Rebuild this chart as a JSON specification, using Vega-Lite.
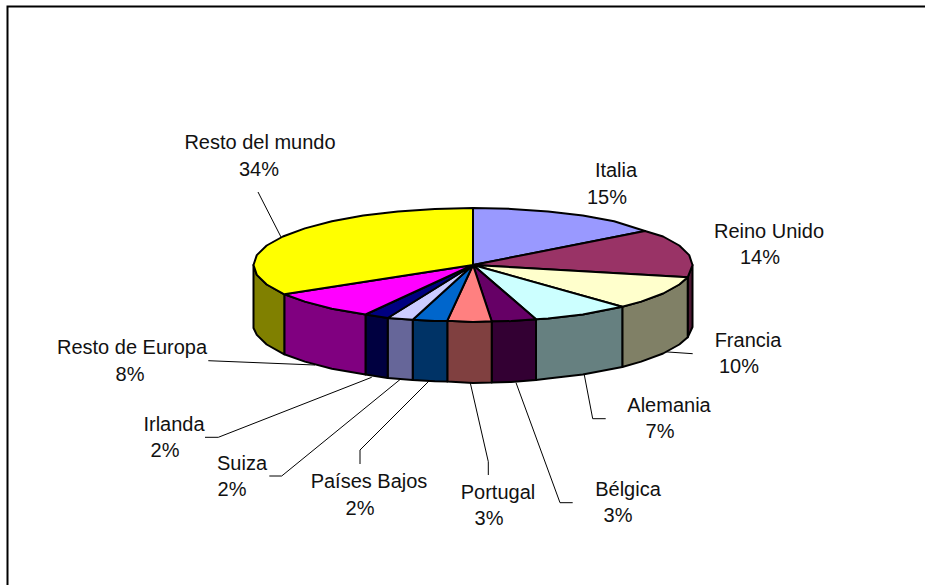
{
"$schema":"https://vega.github.io/schema/vega-lite/v6.json",
"width":925,"height":585,"padding":0,"autosize":{"type":"none"},
"background":"white","view":{"stroke":null},
"datasets":{
"polys":[
{"p":"Reino Unido lado","o":1,"x":692.5,"y":265},{"p":"Reino Unido lado","o":2,"x":687.7,"y":277.3},{"p":"Reino Unido lado","o":3,"x":687.7,"y":337.3},{"p":"Reino Unido lado","o":4,"x":692.5,"y":327},
{"p":"Francia lado","o":1,"x":687.7,"y":277.3},{"p":"Francia lado","o":2,"x":679.3,"y":284.5},{"p":"Francia lado","o":3,"x":663.1,"y":293.5},{"p":"Francia lado","o":4,"x":641.1,"y":301.6},{"p":"Francia lado","o":5,"x":622.3,"y":306.7},{"p":"Francia lado","o":6,"x":622.3,"y":367},{"p":"Francia lado","o":7,"x":641.1,"y":361.6},{"p":"Francia lado","o":8,"x":663.1,"y":353.5},{"p":"Francia lado","o":9,"x":679.3,"y":344.5},{"p":"Francia lado","o":10,"x":687.7,"y":337.3},
{"p":"Alemania lado","o":1,"x":622.3,"y":306.7},{"p":"Alemania lado","o":2,"x":582.8,"y":314.4},{"p":"Alemania lado","o":3,"x":548.1,"y":318.6},{"p":"Alemania lado","o":4,"x":536,"y":319.3},{"p":"Alemania lado","o":5,"x":536,"y":380},{"p":"Alemania lado","o":6,"x":548.1,"y":378.6},{"p":"Alemania lado","o":7,"x":582.8,"y":374.4},{"p":"Alemania lado","o":8,"x":622.3,"y":367},
{"p":"Bélgica lado","o":1,"x":536,"y":319.3},{"p":"Bélgica lado","o":2,"x":511.1,"y":321.1},{"p":"Bélgica lado","o":3,"x":491.7,"y":321.3},{"p":"Bélgica lado","o":4,"x":491.7,"y":382.5},{"p":"Bélgica lado","o":5,"x":511.1,"y":382},{"p":"Bélgica lado","o":6,"x":536,"y":380},
{"p":"Portugal lado","o":1,"x":491.7,"y":321.3},{"p":"Portugal lado","o":2,"x":473,"y":322},{"p":"Portugal lado","o":3,"x":447.3,"y":320.7},{"p":"Portugal lado","o":4,"x":447.3,"y":381.5},{"p":"Portugal lado","o":5,"x":473,"y":383},{"p":"Portugal lado","o":6,"x":491.7,"y":382.5},
{"p":"Países Bajos lado","o":1,"x":447.3,"y":320.7},{"p":"Países Bajos lado","o":2,"x":434.9,"y":321.1},{"p":"Países Bajos lado","o":3,"x":412.7,"y":319.7},{"p":"Países Bajos lado","o":4,"x":412.7,"y":380},{"p":"Países Bajos lado","o":5,"x":434.9,"y":381.3},{"p":"Países Bajos lado","o":6,"x":447.3,"y":381.5},
{"p":"Suiza lado","o":1,"x":412.7,"y":319.7},{"p":"Suiza lado","o":2,"x":387.7,"y":318},{"p":"Suiza lado","o":3,"x":387.7,"y":378},{"p":"Suiza lado","o":4,"x":412.7,"y":380},
{"p":"Irlanda lado","o":1,"x":387.7,"y":318},{"p":"Irlanda lado","o":2,"x":365.5,"y":314.5},{"p":"Irlanda lado","o":3,"x":365.5,"y":374.5},{"p":"Irlanda lado","o":4,"x":387.7,"y":378},
{"p":"Resto de Europa lado","o":1,"x":365.5,"y":314.5},{"p":"Resto de Europa lado","o":2,"x":331.9,"y":308.7},{"p":"Resto de Europa lado","o":3,"x":304.9,"y":301.6},{"p":"Resto de Europa lado","o":4,"x":284.3,"y":294.3},{"p":"Resto de Europa lado","o":5,"x":284.3,"y":354.3},{"p":"Resto de Europa lado","o":6,"x":304.9,"y":361.6},{"p":"Resto de Europa lado","o":7,"x":331.9,"y":368.7},{"p":"Resto de Europa lado","o":8,"x":365.5,"y":374.5},
{"p":"Resto del mundo lado","o":1,"x":284.3,"y":294.3},{"p":"Resto del mundo lado","o":2,"x":266.7,"y":284.5},{"p":"Resto del mundo lado","o":3,"x":256.8,"y":274.9},{"p":"Resto del mundo lado","o":4,"x":253.5,"y":265},{"p":"Resto del mundo lado","o":5,"x":253.5,"y":328},{"p":"Resto del mundo lado","o":6,"x":256.8,"y":334.9},{"p":"Resto del mundo lado","o":7,"x":266.7,"y":344.5},{"p":"Resto del mundo lado","o":8,"x":284.3,"y":354.3},
{"p":"Italia","o":1,"x":473,"y":265},{"p":"Italia","o":2,"x":473,"y":208},{"p":"Italia","o":3,"x":511.1,"y":208.9},{"p":"Italia","o":4,"x":548.1,"y":211.4},{"p":"Italia","o":5,"x":582.8,"y":215.6},{"p":"Italia","o":6,"x":614.1,"y":221.3},{"p":"Italia","o":7,"x":645,"y":231},
{"p":"Reino Unido","o":1,"x":473,"y":265},{"p":"Reino Unido","o":2,"x":645,"y":231},{"p":"Reino Unido","o":3,"x":663.1,"y":236.5},{"p":"Reino Unido","o":4,"x":679.3,"y":245.5},{"p":"Reino Unido","o":5,"x":689.2,"y":255.1},{"p":"Reino Unido","o":6,"x":692.5,"y":265},{"p":"Reino Unido","o":7,"x":687.7,"y":277.3},
{"p":"Francia","o":1,"x":473,"y":265},{"p":"Francia","o":2,"x":687.7,"y":277.3},{"p":"Francia","o":3,"x":679.3,"y":284.5},{"p":"Francia","o":4,"x":663.1,"y":293.5},{"p":"Francia","o":5,"x":641.1,"y":301.6},{"p":"Francia","o":6,"x":622.3,"y":306.7},
{"p":"Alemania","o":1,"x":473,"y":265},{"p":"Alemania","o":2,"x":622.3,"y":306.7},{"p":"Alemania","o":3,"x":582.8,"y":314.4},{"p":"Alemania","o":4,"x":548.1,"y":318.6},{"p":"Alemania","o":5,"x":536,"y":319.3},
{"p":"Bélgica","o":1,"x":473,"y":265},{"p":"Bélgica","o":2,"x":536,"y":319.3},{"p":"Bélgica","o":3,"x":511.1,"y":321.1},{"p":"Bélgica","o":4,"x":491.7,"y":321.3},
{"p":"Portugal","o":1,"x":473,"y":265},{"p":"Portugal","o":2,"x":491.7,"y":321.3},{"p":"Portugal","o":3,"x":473,"y":322},{"p":"Portugal","o":4,"x":447.3,"y":320.7},
{"p":"Países Bajos","o":1,"x":473,"y":265},{"p":"Países Bajos","o":2,"x":447.3,"y":320.7},{"p":"Países Bajos","o":3,"x":434.9,"y":321.1},{"p":"Países Bajos","o":4,"x":412.7,"y":319.7},
{"p":"Suiza","o":1,"x":473,"y":265},{"p":"Suiza","o":2,"x":412.7,"y":319.7},{"p":"Suiza","o":3,"x":387.7,"y":318},
{"p":"Irlanda","o":1,"x":473,"y":265},{"p":"Irlanda","o":2,"x":387.7,"y":318},{"p":"Irlanda","o":3,"x":365.5,"y":314.5},
{"p":"Resto de Europa","o":1,"x":473,"y":265},{"p":"Resto de Europa","o":2,"x":365.5,"y":314.5},{"p":"Resto de Europa","o":3,"x":331.9,"y":308.7},{"p":"Resto de Europa","o":4,"x":304.9,"y":301.6},{"p":"Resto de Europa","o":5,"x":284.3,"y":294.3},
{"p":"Resto del mundo","o":1,"x":473,"y":265},{"p":"Resto del mundo","o":2,"x":284.3,"y":294.3},{"p":"Resto del mundo","o":3,"x":266.7,"y":284.5},{"p":"Resto del mundo","o":4,"x":256.8,"y":274.9},{"p":"Resto del mundo","o":5,"x":253.5,"y":265},{"p":"Resto del mundo","o":6,"x":256.8,"y":255.1},{"p":"Resto del mundo","o":7,"x":266.7,"y":245.5},{"p":"Resto del mundo","o":8,"x":282.9,"y":236.5},{"p":"Resto del mundo","o":9,"x":304.9,"y":228.4},{"p":"Resto del mundo","o":10,"x":331.9,"y":221.3},{"p":"Resto del mundo","o":11,"x":363.2,"y":215.6},{"p":"Resto del mundo","o":12,"x":397.9,"y":211.4},{"p":"Resto del mundo","o":13,"x":434.9,"y":208.9},{"p":"Resto del mundo","o":14,"x":473,"y":208}
],
"leaders":[
{"l":"Resto del mundo","o":1,"x":258,"y":192},{"l":"Resto del mundo","o":2,"x":281,"y":237},
{"l":"Francia","o":1,"x":665,"y":351.7},{"l":"Francia","o":2,"x":668,"y":352},{"l":"Francia","o":3,"x":692.7,"y":353.7},
{"l":"Alemania","o":1,"x":584,"y":373.3},{"l":"Alemania","o":2,"x":592.7,"y":418.7},{"l":"Alemania","o":3,"x":605.7,"y":418.7},
{"l":"Bélgica","o":1,"x":516,"y":382.7},{"l":"Bélgica","o":2,"x":560,"y":502.7},{"l":"Bélgica","o":3,"x":572.7,"y":502.7},
{"l":"Portugal","o":1,"x":470,"y":381.7},{"l":"Portugal","o":2,"x":488.3,"y":461.7},{"l":"Portugal","o":3,"x":488.3,"y":475},
{"l":"Países Bajos","o":1,"x":430,"y":380},{"l":"Países Bajos","o":2,"x":360,"y":450},{"l":"Países Bajos","o":3,"x":360,"y":464},
{"l":"Suiza","o":1,"x":400.7,"y":379},{"l":"Suiza","o":2,"x":281.7,"y":476},{"l":"Suiza","o":3,"x":269.3,"y":476},
{"l":"Irlanda","o":1,"x":371.7,"y":377.3},{"l":"Irlanda","o":2,"x":218.3,"y":437.3},{"l":"Irlanda","o":3,"x":205,"y":437.3},
{"l":"Resto de Europa","o":1,"x":208.3,"y":360.7},{"l":"Resto de Europa","o":2,"x":315,"y":365}
],
"labels":[
{"t":"Resto del mundo","x":260,"y":141},{"t":"34%","x":259,"y":168},
{"t":"Italia","x":616,"y":169},{"t":"15%","x":607,"y":196},
{"t":"Reino Unido","x":769,"y":230},{"t":"14%","x":760,"y":256},
{"t":"Francia","x":748,"y":339},{"t":"10%","x":739,"y":365},
{"t":"Alemania","x":669,"y":404},{"t":"7%","x":660,"y":430},
{"t":"Bélgica","x":628,"y":488},{"t":"3%","x":618,"y":514},
{"t":"Portugal","x":498,"y":491},{"t":"3%","x":489,"y":517},
{"t":"Países Bajos","x":369,"y":480},{"t":"2%","x":360,"y":507},
{"t":"Suiza","x":242,"y":462},{"t":"2%","x":232,"y":488},
{"t":"Irlanda","x":174,"y":423},{"t":"2%","x":165,"y":449},
{"t":"Resto de Europa","x":132,"y":346},{"t":"8%","x":130,"y":373}
],
"frame":[{"o":1,"x":7.5,"y":585},{"o":2,"x":7.5,"y":6.5},{"o":3,"x":925,"y":6.5}]
},
"layer":[
{"data":{"name":"frame"},"mark":{"type":"line","stroke":"black","strokeWidth":2,"clip":true},
 "encoding":{"x":{"field":"x","type":"quantitative","scale":{"domain":[0,925]},"axis":null},"y":{"field":"y","type":"quantitative","scale":{"domain":[585,0]},"axis":null},"order":{"field":"o"}}},
{"data":{"name":"leaders"},"mark":{"type":"line","stroke":"black","strokeWidth":1},
 "encoding":{"x":{"field":"x","type":"quantitative","scale":{"domain":[0,925]},"axis":null},"y":{"field":"y","type":"quantitative","scale":{"domain":[585,0]},"axis":null},"detail":{"field":"l"},"order":{"field":"o"}}},
{"data":{"name":"polys"},"mark":{"type":"line","stroke":"black","strokeWidth":2,"strokeJoin":"round","interpolate":"linear-closed"},
 "encoding":{"x":{"field":"x","type":"quantitative","scale":{"domain":[0,925]},"axis":null},"y":{"field":"y","type":"quantitative","scale":{"domain":[585,0]},"axis":null},"order":{"field":"o"},
 "fill":{"field":"p","type":"nominal","legend":null,"sort":null,"scale":{
  "domain":["Reino Unido lado","Francia lado","Alemania lado","Bélgica lado","Portugal lado","Países Bajos lado","Suiza lado","Irlanda lado","Resto de Europa lado","Resto del mundo lado","Italia","Reino Unido","Francia","Alemania","Bélgica","Portugal","Países Bajos","Suiza","Irlanda","Resto de Europa","Resto del mundo"],
  "range":["#4C1933","#808066","#668080","#330033","#804040","#003366","#666699","#000040","#800080","#808000","#9999FF","#993366","#FFFFCC","#CCFFFF","#660066","#FF8080","#0066CC","#CCCCFF","#000080","#FF00FF","#FFFF00"]}}}},
{"data":{"name":"labels"},"mark":{"type":"text","font":"Liberation Sans","fontSize":20,"align":"center","baseline":"middle","dy":1.5,"fill":"#111111"},
 "encoding":{"x":{"field":"x","type":"quantitative","scale":{"domain":[0,925]},"axis":null},"y":{"field":"y","type":"quantitative","scale":{"domain":[585,0]},"axis":null},"text":{"field":"t"}}}
]
}
